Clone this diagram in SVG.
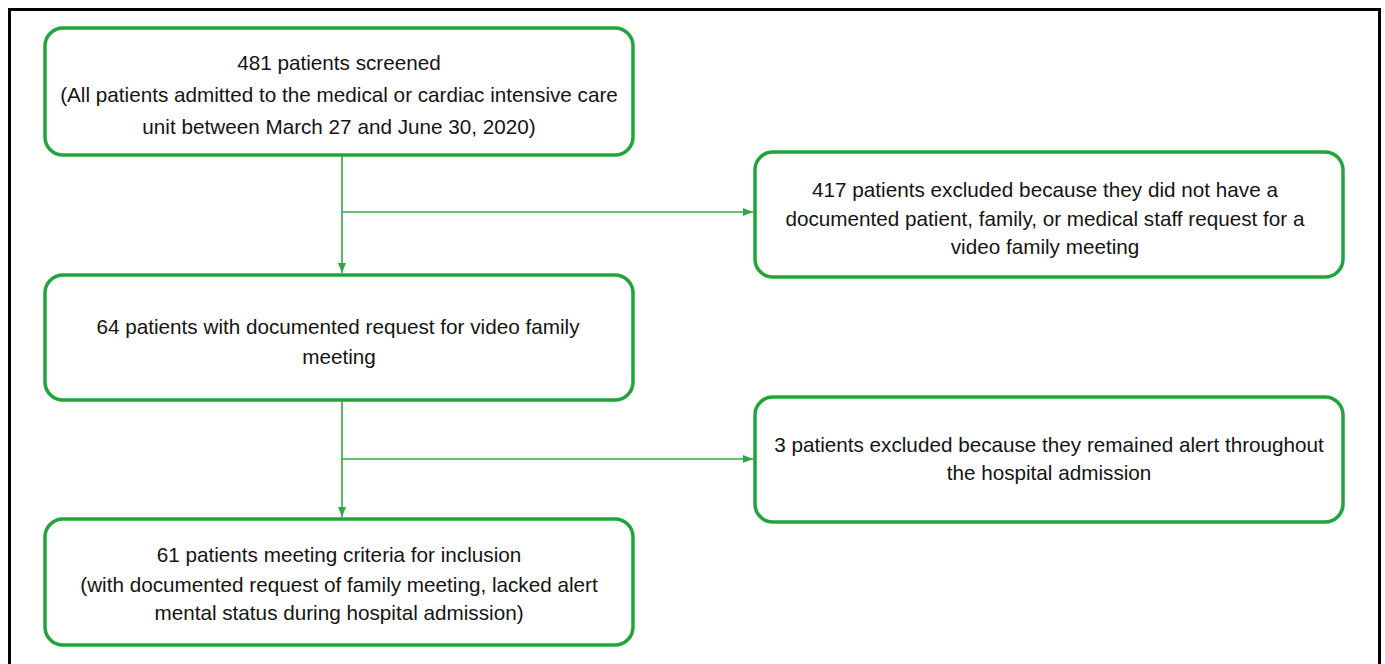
<svg xmlns="http://www.w3.org/2000/svg" width="1385" height="664" viewBox="0 0 1385 664">
<defs>
<style>
.box{fill:#ffffff;stroke:#1fa53a;stroke-width:3.5}
.t{font-family:"Liberation Sans",Arial,sans-serif;font-size:20.7px;fill:#141414;text-anchor:middle}
.c{fill:none;stroke:#2fa84a;stroke-width:1.6}
</style>
<marker id="ah" markerWidth="10" markerHeight="8" refX="10" refY="4" orient="auto" markerUnits="userSpaceOnUse">
<path d="M0,0 L10,4 L0,8 Z" fill="#2fa84a"/>
</marker>
</defs>
<rect width="1385" height="664" fill="#ffffff"/>
<path d="M9.5,664 V9.5 H1379.5 V664" fill="none" stroke="#000" stroke-width="3"/>
<g id="connectors">
<path class="c" d="M342,155 V273" marker-end="url(#ah)"/>
<path class="c" d="M342,212 H753" marker-end="url(#ah)"/>
<path class="c" d="M342,400 V517" marker-end="url(#ah)"/>
<path class="c" d="M342,459 H753" marker-end="url(#ah)"/>
</g>
<g id="n1">
<rect class="box" x="45" y="28" width="588" height="127" rx="18"/>
<text class="t" x="339" y="70">481 patients screened</text>
<text class="t" x="339" y="102">(All patients admitted to the medical or cardiac intensive care</text>
<text class="t" x="339" y="134">unit between March 27 and June 30, 2020)</text>
</g>
<g id="n2">
<rect class="box" x="755" y="152" width="588" height="125" rx="18"/>
<text class="t" x="1045" y="197">417 patients excluded because they did not have a</text>
<text class="t" x="1045" y="226">documented patient, family, or medical staff request for a</text>
<text class="t" x="1045" y="254">video family meeting</text>
</g>
<g id="n3">
<rect class="box" x="45" y="275" width="588" height="125" rx="18"/>
<text class="t" x="338" y="334">64 patients with documented request for video family</text>
<text class="t" x="339" y="364">meeting</text>
</g>
<g id="n4">
<rect class="box" x="755" y="397" width="588" height="125" rx="18"/>
<text class="t" x="1049" y="452">3 patients excluded because they remained alert throughout</text>
<text class="t" x="1049" y="480">the hospital admission</text>
</g>
<g id="n5">
<rect class="box" x="45" y="519" width="588" height="126" rx="18"/>
<text class="t" x="339" y="562">61 patients meeting criteria for inclusion</text>
<text class="t" x="339" y="592">(with documented request of family meeting, lacked alert</text>
<text class="t" x="339" y="620">mental status during hospital admission)</text>
</g>
</svg>
